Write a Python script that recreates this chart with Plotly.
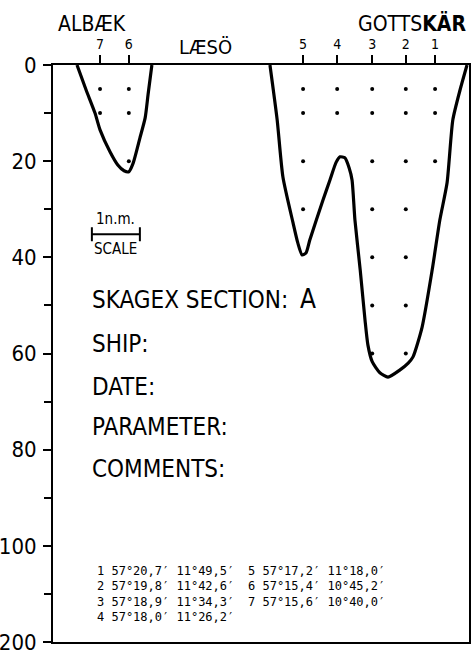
import plotly.graph_objects as go

# ---------------- data ----------------
station_ids = ["7", "6", "5", "4", "3", "2", "1"]
station_x = [0.98, 1.58, 5.21, 5.92, 6.65, 7.35, 7.96]          # distance along section (n.m.)
station_depths = [[5, 10], [5, 10, 20], [5, 10, 20, 30], [5, 10],
                  [5, 10, 20, 30, 40, 50, 60], [5, 10, 20, 30, 40, 50, 60], [5, 10, 20]]

left_x = [0.50, 0.69, 0.875, 0.98, 1.19, 1.35, 1.48, 1.58, 1.67, 1.81, 1.92, 1.98, 2.06]
left_d = [0, 5.2, 10.0, 13.5, 18.1, 20.8, 22.0, 22.2, 20.4, 15.2, 11.0, 6.2, 0]

right_x = [4.52, 4.67, 4.79, 5.0, 5.10, 5.19, 5.27, 5.35, 5.625, 5.77, 5.90, 5.98, 6.08,
           6.17, 6.23, 6.29, 6.40, 6.50, 6.56, 6.65, 6.81, 6.98, 7.23, 7.40, 7.50, 7.69,
           7.90, 8.06, 8.21, 8.33, 8.48, 8.625]
right_d = [0, 11.4, 23.3, 32.8, 37.0, 39.5, 39.1, 36.4, 28.1, 23.9, 20.2, 19.1, 19.3,
           21.4, 23.9, 32.2, 42.6, 53.0, 58.2, 61.7, 64.0, 64.9, 63.4, 62.0, 60.7, 54.5,
           42.6, 32.2, 24.5, 11.4, 5.2, 0]

depth_ticks = [0, 20, 40, 60, 80, 100, 200]
depth_minor = [10, 30, 50, 70, 90, 150]

coord_col1 = ["1 57°20,7′ 11°49,5′", "2 57°19,8′ 11°42,6′", "3 57°18,9′ 11°34,3′", "4 57°18,0′ 11°26,2′"]
coord_col2 = ["5 57°17,2′ 11°18,0′", "6 57°15,4′ 10°45,2′", "7 57°15,6′ 10°40,0′"]

form_labels = ["SHIP:", "DATE:", "PARAMETER:", "COMMENTS:"]

X_MAX = 416 / 48.0


def disp(d):
    """depth -> display coordinate (0-100 linear, 100-200 compressed 5x)"""
    return d if d <= 100 else 100 + (d - 100) / 5.0


FONT = "DejaVu Sans Condensed, Liberation Sans Narrow, DejaVu Sans, sans-serif"

fig = go.Figure()

for xs, ds in [(left_x, left_d), (right_x, right_d)]:
    fig.add_trace(go.Scatter(x=xs, y=[disp(d) for d in ds], mode="lines",
                             line=dict(color="black", width=3.2, shape="spline", smoothing=0.6),
                             hoverinfo="skip"))

dx, dy = [], []
for sx, deps in zip(station_x, station_depths):
    for d in deps:
        dx.append(sx)
        dy.append(disp(d))
fig.add_trace(go.Scatter(x=dx, y=dy, mode="markers",
                         marker=dict(color="black", size=4), hoverinfo="skip"))

# scale bar: 1 n.m.
scale_x0 = 0.81
scale_depth = 35.2
fig.add_trace(go.Scatter(x=[scale_x0, scale_x0 + 1], y=[scale_depth, scale_depth],
                         mode="lines+markers",
                         line=dict(color="black", width=2),
                         marker=dict(symbol="line-ns", size=10, line=dict(width=2, color="black")),
                         hoverinfo="skip"))

ann = []
ann.append(dict(x=scale_x0 + 0.5, y=32.0, text="1n.m.", font=dict(size=15)))
ann.append(dict(x=scale_x0 + 0.5, y=38.3, text="SCALE", font=dict(size=15)))

ann.append(dict(x=0.77, y=48.8, text="SKAGEX SECTION:", xanchor="left", font=dict(size=24)))
ann.append(dict(x=5.10, y=48.6, text="A", xanchor="left", font=dict(size=26)))
form_y = [58.0, 67.0, 75.3, 84.0]
for t, yv in zip(form_labels, form_y):
    ann.append(dict(x=0.77, y=yv, text=t, xanchor="left", font=dict(size=24)))

mono = "DejaVu Sans Mono, Liberation Mono, monospace"
line_y = [105.2, 108.3, 111.6, 114.7]
for t, yv in zip(coord_col1, line_y):
    ann.append(dict(x=0.87, y=yv, text=t, xanchor="left", font=dict(size=12, family=mono)))
for t, yv in zip(coord_col2, line_y):
    ann.append(dict(x=4.03, y=yv, text=t, xanchor="left", font=dict(size=12, family=mono)))

for a in ann:
    a.setdefault("xref", "x")
    a.setdefault("yref", "y")
    a["showarrow"] = False
    a.setdefault("xanchor", "center")
    a["yanchor"] = "middle"
    a["font"].setdefault("family", FONT)
    a["font"]["color"] = "black"

# place names above the plot area (paper coords)
def py(pix):
    return 1 + (65 - pix) / 577.0

def px(pix):
    return (pix - 53) / 416.0

top = [("ALBÆK", 92, 24, 21), ("LÆSÖ", 205, 47, 20), ("GOTTS<b>KÄR</b>", 412, 24, 21)]
for t, xx, yy, fs in top:
    ann.append(dict(xref="paper", yref="paper", x=px(xx), y=py(yy), text=t, showarrow=False,
                    xanchor="center", yanchor="middle",
                    font=dict(family=FONT, size=fs, color="black")))

fig.update_layout(
    width=475, height=657,
    margin=dict(l=53, r=6, t=65, b=15, autoexpand=False),
    paper_bgcolor="white", plot_bgcolor="white",
    showlegend=False,
    annotations=ann,
    xaxis=dict(range=[0, X_MAX], side="top", showgrid=False, zeroline=False, automargin=False,
               showline=True, linecolor="black", linewidth=2, mirror=True,
               tickmode="array", tickvals=station_x, ticktext=station_ids,
               ticks="outside", ticklen=8, tickwidth=2, tickcolor="black",
               tickfont=dict(family=FONT, size=14, color="black")),
    yaxis=dict(range=[disp(200), 0], autorange=False, showgrid=False, zeroline=False,
               automargin=False,
               showline=True, linecolor="black", linewidth=2, mirror=True,
               tickmode="array", tickvals=[disp(v) for v in depth_ticks],
               ticktext=[str(v) for v in depth_ticks],
               ticks="outside", ticklen=8, tickwidth=2, tickcolor="black",
               ticklabelstandoff=2,
               tickfont=dict(family=FONT, size=22, color="black"),
               minor=dict(tickmode="array", tickvals=[disp(v) for v in depth_minor],
                          ticks="outside", ticklen=7, tickwidth=2, tickcolor="black",
                          showgrid=False)),
)

fig.write_html("out.html", config={"displayModeBar": False},
               post_script="document.body.style.margin='0px';document.body.style.overflow='hidden';")
